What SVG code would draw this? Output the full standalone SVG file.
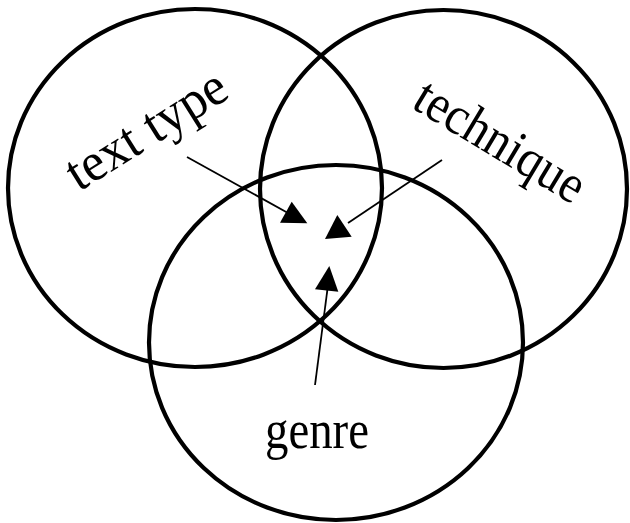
<svg xmlns="http://www.w3.org/2000/svg" width="630" height="523" viewBox="0 0 630 523">
<style>
.c{fill:none;stroke:#000;stroke-width:4.2}
.l{fill:none;stroke:#000;stroke-width:1.8}
.h{fill:#000;stroke:none}
.t{font-family:"Liberation Serif","Times New Roman",serif;font-size:54px;fill:#000}
</style>
<rect width="630" height="523" fill="#fff"/>
<g id="text-type">
<ellipse class="c" cx="195" cy="188" rx="187" ry="179"/>
<text class="t" transform="translate(79,192) rotate(-32)" textLength="180" lengthAdjust="spacingAndGlyphs">text type</text>
</g>
<g id="technique">
<ellipse class="c" cx="443.5" cy="189" rx="183.5" ry="179"/>
<text class="t" transform="translate(410,107) rotate(31)" textLength="190" lengthAdjust="spacingAndGlyphs">technique</text>
</g>
<g id="genre">
<ellipse class="c" cx="336" cy="342.5" rx="187" ry="177.5"/>
<text class="t" x="265" y="448" textLength="104" lengthAdjust="spacingAndGlyphs">genre</text>
</g>
<g id="connectors">
<line class="l" x1="187" y1="157" x2="288" y2="213"/>
<polygon class="h" points="291.7,201.7 280,222.7 307.3,223.3"/>
<line class="l" x1="442" y1="160" x2="348" y2="223"/>
<polygon class="h" points="337.3,215 325,239 351.7,236.7"/>
<line class="l" x1="315" y1="385" x2="328" y2="285"/>
<polygon class="h" points="329.3,266 315,289.3 338.3,291.7"/>
</g>
</svg>
